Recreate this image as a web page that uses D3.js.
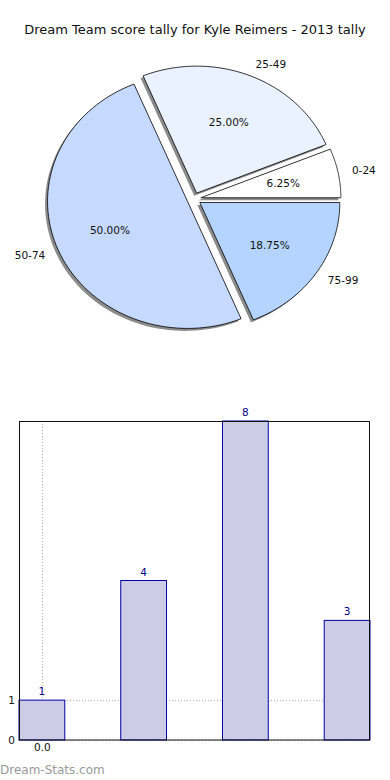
<!DOCTYPE html>
<html>
<head>
<meta charset="utf-8">
<script src="https://cdn.jsdelivr.net/npm/d3@7"></script>
<style>
  body { margin: 0; background: #fff; }
  svg { display: block; font-family: "DejaVu Sans", sans-serif; }
</style>
</head>
<body>
<svg width="390" height="780"></svg>
<script>
// data
var title = 'Dream Team score tally for Kyle Reimers - 2013 tally';
var ranges = ['0-24', '25-49', '50-74', '75-99'];
var counts = [1, 4, 8, 3];
var sliceColors = ['#ffffff', '#eaf2ff', '#c6d9ff', '#b4d4ff'];
var yTicks = [0, 1];
var xTicks = [0];

var svg = d3.select('svg');

svg.append('text')
    .attr('x', 195).attr('y', 34)
    .attr('text-anchor', 'middle')
    .attr('font-size', 13)
    .attr('fill', '#111')
    .text(title);

// ---- pie (matplotlib style, ellipse, exploded, shadow) ----
var cx = 194, cy = 199, rx = 140, ry = 127, explode = 0.05;
var total = d3.sum(counts);

// angles in math convention, start at 0, counterclockwise
var angles = [];
var acc = 0;
counts.forEach(function(c, i) {
    var a0 = acc / total * 2 * Math.PI;
    acc += c;
    var a1 = acc / total * 2 * Math.PI;
    angles.push({ i: i, a0: a0, a1: a1, mid: (a0 + a1) / 2, v: c });
});

function slicePath(d, ox, oy) {
    var pts = [];
    var n = 80;
    for (var k = 0; k <= n; k++) {
        var a = d.a0 + (d.a1 - d.a0) * k / n;
        pts.push([ox + rx * Math.cos(a), oy - ry * Math.sin(a)]);
    }
    return 'M' + ox + ',' + oy + 'L' + pts.map(function(p) { return p.join(','); }).join('L') + 'Z';
}

angles.forEach(function(d) {
    d.ox = cx + explode * rx * Math.cos(d.mid);
    d.oy = cy - explode * ry * Math.sin(d.mid);
});

var pie = svg.append('g');

// shadows
pie.selectAll('path.shadow')
    .data(angles)
    .enter().append('path')
    .attr('class', 'shadow')
    .attr('d', function(d) { return slicePath(d, d.ox - 2.5, d.oy + 2.5); })
    .attr('fill', '#000')
    .attr('fill-opacity', 0.45);

pie.selectAll('path.slice')
    .data(angles)
    .enter().append('path')
    .attr('class', 'slice')
    .attr('d', function(d) { return slicePath(d, d.ox, d.oy); })
    .attr('fill', function(d) { return sliceColors[d.i]; })
    .attr('stroke', '#000')
    .attr('stroke-width', 0.8)
    .attr('stroke-linejoin', 'round');

pie.selectAll('text.lab')
    .data(angles)
    .enter().append('text')
    .attr('class', 'lab')
    .attr('x', function(d) { return d.ox + 1.1 * rx * Math.cos(d.mid); })
    .attr('y', function(d) { return d.oy - 1.1 * ry * Math.sin(d.mid); })
    .attr('dy', '0.35em')
    .attr('text-anchor', function(d) { return Math.cos(d.mid) > 0 ? 'start' : 'end'; })
    .attr('font-size', 10.5)
    .attr('fill', '#111')
    .text(function(d) { return ranges[d.i]; });

pie.selectAll('text.pct')
    .data(angles)
    .enter().append('text')
    .attr('class', 'pct')
    .attr('x', function(d) { return d.ox + 0.6 * rx * Math.cos(d.mid); })
    .attr('y', function(d) { return d.oy - 0.6 * ry * Math.sin(d.mid); })
    .attr('dy', '0.35em')
    .attr('text-anchor', 'middle')
    .attr('font-size', 10.5)
    .attr('fill', '#111')
    .text(function(d) { return (d.v / total * 100).toFixed(2) + '%'; });

// ---- bar chart ----
var plotL = 19, plotR = 370, plotT = 421, plotB = 740;
var barW = 0.45;

var x = d3.scaleLinear()
    .domain([-barW / 2, counts.length - 1 + barW / 2])
    .range([plotL, plotR]);
var y = d3.scaleLinear()
    .domain([0, d3.max(counts)])
    .range([plotB, plotT]);

var bars = svg.append('g');

// grid
bars.selectAll('line.gy')
    .data(yTicks)
    .enter().append('line')
    .attr('x1', plotL).attr('x2', plotR)
    .attr('y1', function(d) { return y(d) + 0.5; })
    .attr('y2', function(d) { return y(d) + 0.5; })
    .attr('stroke', '#aaa')
    .attr('stroke-width', 1)
    .attr('stroke-dasharray', '1,2');
bars.selectAll('line.gx')
    .data(xTicks)
    .enter().append('line')
    .attr('x1', function(d) { return Math.round(x(d)) + 0.5; })
    .attr('x2', function(d) { return Math.round(x(d)) + 0.5; })
    .attr('y1', plotT).attr('y2', plotB)
    .attr('stroke', '#aaa')
    .attr('stroke-width', 1)
    .attr('stroke-dasharray', '1,2');

bars.selectAll('rect.bar')
    .data(counts)
    .enter().append('rect')
    .attr('class', 'bar')
    .attr('x', function(d, i) { return x(i - barW / 2); })
    .attr('width', function() { return x(barW) - x(0); })
    .attr('y', function(d) { return y(d); })
    .attr('height', function(d) { return plotB - y(d); })
    .attr('fill', '#ccccE6')
    .attr('stroke', '#0000a0')
    .attr('stroke-width', 1);

bars.selectAll('text.val')
    .data(counts)
    .enter().append('text')
    .attr('x', function(d, i) { return x(i); })
    .attr('y', function(d) { return y(d) - 5; })
    .attr('text-anchor', 'middle')
    .attr('font-size', 10.5)
    .attr('fill', '#00008b')
    .text(function(d) { return d; });

// frame
bars.append('rect')
    .attr('x', plotL + 0.5).attr('y', plotT + 0.5)
    .attr('width', plotR - plotL - 1).attr('height', plotB - plotT - 0.5)
    .attr('fill', 'none')
    .attr('stroke', '#111')
    .attr('stroke-width', 1);

// axes
var yAxis = d3.axisLeft(y).tickValues(yTicks).tickSize(0).tickPadding(4);
var gy = bars.append('g').attr('transform', 'translate(' + plotL + ',0)').call(yAxis);
gy.select('.domain').remove();
gy.selectAll('text').attr('font-size', 10.5).attr('fill', '#111').attr('font-family', '"DejaVu Sans", sans-serif');

var xAxis = d3.axisBottom(x).tickValues(xTicks).tickSize(0).tickPadding(4)
    .tickFormat(d3.format('.1f'));
var gx = bars.append('g').attr('transform', 'translate(0,' + plotB + ')').call(xAxis);
gx.select('.domain').remove();
gx.selectAll('text').attr('font-size', 10.5).attr('fill', '#111').attr('font-family', '"DejaVu Sans", sans-serif');

// watermark
svg.append('text')
    .attr('x', 0).attr('y', 774)
    .attr('font-size', 12)
    .attr('fill', '#999')
    .text('Dream-Stats.com');
</script>
</body>
</html>
